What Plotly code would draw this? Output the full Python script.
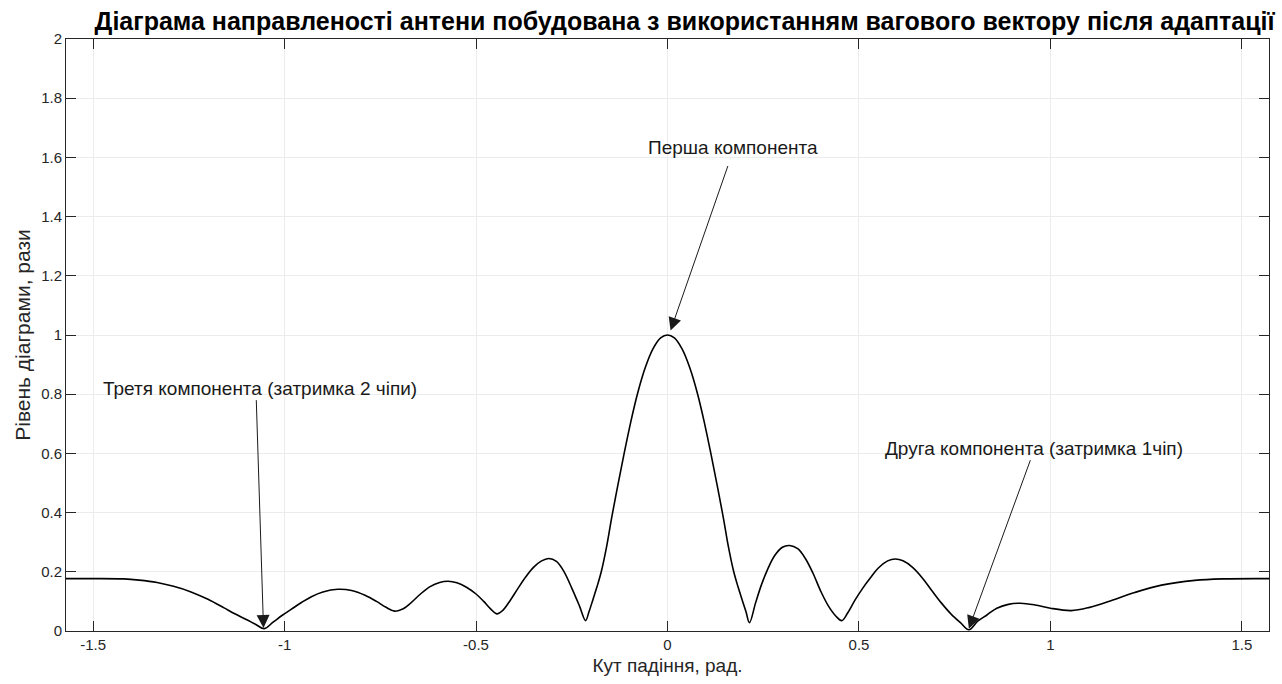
import plotly.graph_objects as go

# Antenna pattern after weight-vector adaptation (angle in rad, level in times)
angle = [-1.571, -1.5, -1.42, -1.38, -1.333, -1.29, -1.246, -1.2, -1.158, -1.13,
         -1.1, -1.075, -1.053, -1.03, -1.005, -0.983, -0.955, -0.93, -0.9, -0.861,
         -0.825, -0.79, -0.76, -0.735, -0.712, -0.69, -0.67, -0.645, -0.62, -0.595,
         -0.573, -0.55, -0.525, -0.5, -0.48, -0.462, -0.446, -0.43, -0.41, -0.39,
         -0.37, -0.35, -0.33, -0.31, -0.29, -0.27, -0.25, -0.23, -0.214, -0.205,
         -0.195, -0.184, -0.173, -0.159, -0.1455, -0.13, -0.114, -0.097, -0.0787, -0.058,
         -0.038, -0.018, 0.0, 0.018, 0.038, 0.058, 0.0787, 0.097, 0.114, 0.13,
         0.1455, 0.159, 0.173, 0.184, 0.195, 0.205, 0.214, 0.23, 0.245, 0.262,
         0.28, 0.3, 0.319, 0.34, 0.36, 0.38, 0.4, 0.42, 0.44, 0.455,
         0.47, 0.49, 0.51, 0.53, 0.55, 0.575, 0.595, 0.615, 0.64, 0.665,
         0.69, 0.715, 0.74, 0.765, 0.787, 0.81, 0.835, 0.86, 0.89, 0.922,
         0.96, 1.0, 1.054, 1.1, 1.158, 1.22, 1.29, 1.377, 1.45, 1.571]
level = [0.177, 0.177, 0.176, 0.172, 0.164, 0.151, 0.133, 0.107, 0.078, 0.058,
         0.039, 0.022, 0.008, 0.03, 0.054, 0.073, 0.097, 0.116, 0.132, 0.141,
         0.137, 0.121, 0.1, 0.08, 0.067, 0.075, 0.095, 0.125, 0.15, 0.164,
         0.168, 0.163, 0.148, 0.125, 0.1, 0.075, 0.058, 0.07, 0.105, 0.145,
         0.183, 0.215, 0.236, 0.245, 0.235, 0.2, 0.145, 0.085, 0.035, 0.065,
         0.105, 0.15, 0.2, 0.285, 0.385, 0.49, 0.595, 0.7, 0.8, 0.89,
         0.953, 0.99, 1.0, 0.99, 0.953, 0.89, 0.8, 0.7, 0.595, 0.49,
         0.385, 0.285, 0.2, 0.15, 0.105, 0.065, 0.028, 0.095, 0.155, 0.21,
         0.255, 0.283, 0.289, 0.278, 0.245, 0.195, 0.135, 0.085, 0.05, 0.035,
         0.06, 0.105, 0.145, 0.18, 0.212, 0.237, 0.243, 0.237, 0.215, 0.18,
         0.137, 0.095, 0.058, 0.028, 0.004, 0.033, 0.055, 0.077, 0.09, 0.094,
         0.088, 0.077, 0.069, 0.079, 0.102, 0.13, 0.155, 0.171, 0.176, 0.177]

x_ticks = [-1.5, -1, -0.5, 0, 0.5, 1, 1.5]
x_tick_text = ["-1.5", "-1", "-0.5", "0", "0.5", "1", "1.5"]
y_ticks = [0, 0.2, 0.4, 0.6, 0.8, 1.0, 1.2, 1.4, 1.6, 1.8, 2.0]
y_tick_text = ["0", "0.2", "0.4", "0.6", "0.8", "1", "1.2", "1.4", "1.6", "1.8", "2"]

# Callouts: label, label position, arrow tail, arrow head
callouts = [
    ("Перша компонента", (0.172, 1.635), (0.159, 1.576), (0.008, 1.015)),
    ("Третя компонента (затримка 2 чіпи)", (-1.064, 0.818), (-1.074, 0.785), (-1.055, 0.01)),
    ("Друга компонента (затримка 1чіп)", (0.958, 0.618), (0.949, 0.582), (0.787, 0.008)),
]

FONT = "Liberation Sans, Arial, sans-serif"
AX = "#262626"

fig = go.Figure()
fig.add_trace(go.Scatter(
    x=angle, y=level, mode="lines",
    line=dict(color="black", width=1.6, shape="spline", smoothing=1.0),
    showlegend=False, hoverinfo="skip",
))

for label, (tx, ty), (ax, ay), (hx, hy) in callouts:
    fig.add_annotation(x=tx, y=ty, xref="x", yref="y", text=label, showarrow=False,
                       font=dict(family=FONT, size=19, color="#1a1a1a"))
    fig.add_annotation(x=hx, y=hy, ax=ax, ay=ay, xref="x", yref="y",
                       axref="x", ayref="y", text="", showarrow=True,
                       arrowhead=2, arrowsize=2.6, arrowwidth=1, arrowcolor="#1a1a1a")

fig.update_layout(
    width=1282, height=684,
    margin=dict(l=66, r=13, t=39, b=51),
    paper_bgcolor="white", plot_bgcolor="white",
    font=dict(family=FONT, color=AX),
    title=dict(text="<b>Діаграма направленості антени побудована з використанням вагового вектору після адаптації</b>",
               x=0.534, xanchor="center", y=0.969, yanchor="middle",
               font=dict(family=FONT, size=25, color="black")),
    xaxis=dict(range=[-1.5708, 1.5708], tickvals=x_ticks, ticktext=x_tick_text,
               showgrid=True, gridcolor="#ececec", gridwidth=1, zeroline=False,
               showline=True, linecolor=AX, linewidth=1, mirror="ticks",
               ticks="inside", ticklen=10, tickcolor=AX, tickwidth=1,
               tickfont=dict(size=15, color=AX),
               title=dict(text="Кут падіння, рад.", font=dict(size=19, color=AX), standoff=6)),
    yaxis=dict(range=[0, 2], tickvals=y_ticks, ticktext=y_tick_text,
               showgrid=True, gridcolor="#ececec", gridwidth=1, zeroline=False,
               showline=True, linecolor=AX, linewidth=1, mirror="ticks",
               ticks="inside", ticklen=10, tickcolor=AX, tickwidth=1,
               tickfont=dict(size=15, color=AX),
               title=dict(text="Рівень діаграми, рази", font=dict(size=21, color=AX), standoff=4)),
)

fig.write_html("out.html")
